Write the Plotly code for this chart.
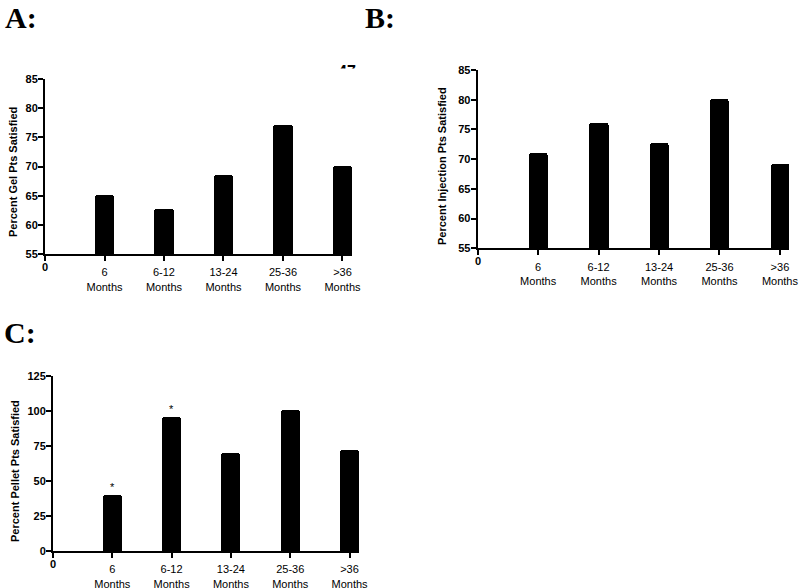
import plotly.graph_objects as go

categories = ["6<br>Months", "6-12<br>Months", "13-24<br>Months", "25-36<br>Months", ">36<br>Months"]
positions = [1, 2, 3, 4, 5]
gel_values = [65.2, 62.7, 68.5, 77.2, 70.1]
injection_values = [71.1, 76.0, 72.8, 80.2, 69.2]
pellet_values = [40.0, 96.0, 70.0, 100.5, 72.0]
star_positions = [1, 2]
star_values = [40.0, 96.0]

W, H = 800, 588
def px(x):
    return x / W
def py(y):
    return 1 - y / H

FONT = "Liberation Sans, Arial, sans-serif"
SERIF = "Liberation Serif, Times New Roman, serif"

fig = go.Figure()

panels = [
    dict(vals=gel_values, xa="x", ya="y", xd=[px(45), px(352)], yd=[py(254), py(79)],
         xr=[0, 5.16], yr=[55, 85], dt=5, title="Percent Gel Pts Satisfied", tx=13, ty=172),
    dict(vals=injection_values, xa="x2", ya="y2", xd=[px(477.7), px(789)], yd=[py(248.3), py(70)],
         xr=[0, 5.15], yr=[55, 85], dt=5, title="Percent Injection Pts Satisfied", tx=442, ty=166),
    dict(vals=pellet_values, xa="x3", ya="y3", xd=[px(53), px(359)], yd=[py(551), py(376)],
         xr=[0, 5.16], yr=[0, 125], dt=25, title="Percent Pellet Pts Satisfied", tx=15, ty=471),
]

annotations = []
for i, p in enumerate(panels):
    fig.add_trace(go.Bar(x=positions, y=p["vals"], xaxis=p["xa"], yaxis=p["ya"],
                         width=0.32, marker=dict(color="black", line=dict(width=0), cornerradius=3),
                         showlegend=False, hoverinfo="skip"))
    sfx = "" if i == 0 else str(i + 1)
    fig.update_layout(**{
        "xaxis" + sfx: dict(domain=p["xd"], range=p["xr"], anchor=p["ya"],
                            tickvals=[0] + positions, ticktext=[""] + categories,
                            showline=True, linewidth=2, linecolor="black",
                            ticks="outside", ticklen=5, tickwidth=2, tickcolor="black",
                            showgrid=False, zeroline=False, automargin=False,
                            ticklabelstandoff=2,
                            tickfont=dict(family=FONT, size=11, color="black"),
                            fixedrange=True),
        "yaxis" + sfx: dict(domain=p["yd"], range=p["yr"], anchor=p["xa"], dtick=p["dt"],
                            tick0=0,
                            showline=True, linewidth=2, linecolor="black",
                            ticks="outside", ticklen=5, tickwidth=2, tickcolor="black",
                            showgrid=False, zeroline=False, automargin=False,
                            ticklabelstandoff=-2,
                            tickfont=dict(family=FONT, size=11, color="black", weight="bold"),
                            fixedrange=True),
    })
    annotations.append(dict(text=p["title"], x=px(p["tx"]), y=py(p["ty"]),
                            xref="paper", yref="paper", showarrow=False, textangle=-90,
                            font=dict(family=FONT, size=11, color="black", weight="bold"),
                            xanchor="center", yanchor="middle"))
    annotations.append(dict(text="0", x=0, y=p["yr"][0], xref=p["xa"], yref=p["ya"],
                            showarrow=False, xanchor="center", yanchor="top", yshift=-5,
                            font=dict(family=FONT, size=11, color="black", weight="bold")))

for sx, sv in zip(star_positions, star_values):
    annotations.append(dict(text="*", x=sx, y=sv, xref="x3", yref="y3", showarrow=False,
                            xanchor="center", yanchor="bottom", yshift=0,
                            font=dict(family=FONT, size=11, color="black")))

for lab, lx, ly, anchor in [("A:", 4, 0, "top"), ("B:", 364, 0, "top"), ("C:", 3, 332, "middle")]:
    annotations.append(dict(text=lab, x=px(lx), y=py(ly), xref="paper", yref="paper",
                            showarrow=False, xanchor="left", yanchor=anchor, borderpad=0,
                            font=dict(family=SERIF, size=30, color="black", weight="bold")))

# partially hidden page number
annotations.append(dict(text="47", x=px(347), y=py(61), xref="paper", yref="paper",
                        showarrow=False, xanchor="center", yanchor="top",
                        font=dict(family=FONT, size=16, color="black", weight="bold")))
annotations.append(dict(text=" ", x=px(347), y=py(68), xref="paper", yref="paper",
                        showarrow=False, xanchor="center", yanchor="top", width=40, height=14,
                        bgcolor="white", borderpad=0))

fig.update_layout(width=W, height=H, margin=dict(l=0, r=0, t=0, b=0),
                  paper_bgcolor="white", plot_bgcolor="white",
                  annotations=annotations, bargap=0)

fig.write_html("out.html", config={"displayModeBar": False},
               post_script="document.body.style.margin='0';document.body.style.padding='0';")
